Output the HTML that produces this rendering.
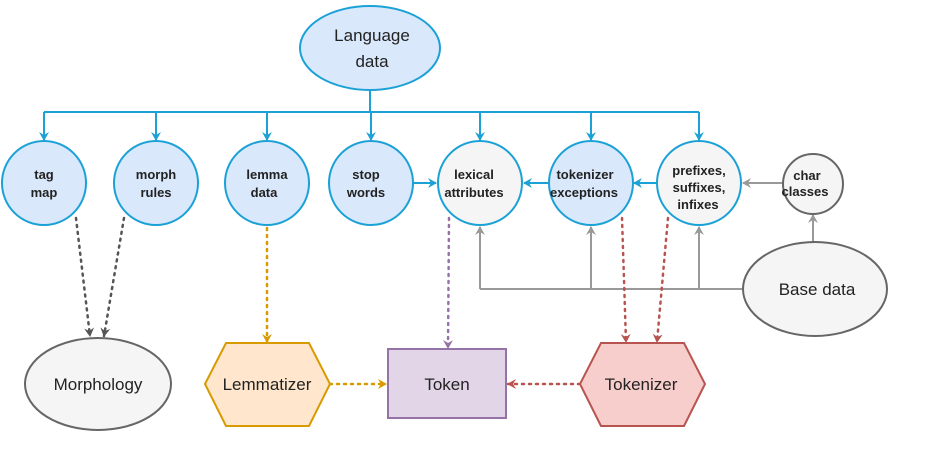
<!DOCTYPE html>
<html><head><style>body{margin:0;background:#fff}svg{display:block}text{font-family:"Liberation Sans",sans-serif}</style></head><body>
<svg width="931" height="456" viewBox="0 0 931 456">
<defs>
<marker id="ab" markerWidth="10" markerHeight="10" refX="8" refY="5" orient="auto" markerUnits="userSpaceOnUse"><path d="M0,0 L9,5 L0,10 L3,5z" fill="#1ba1d6"/></marker>
<marker id="ag" markerWidth="10" markerHeight="10" refX="8" refY="5" orient="auto" markerUnits="userSpaceOnUse"><path d="M0,0 L9,5 L0,10 L3,5z" fill="#999"/></marker>
<marker id="ad" markerWidth="10" markerHeight="10" refX="8" refY="5" orient="auto" markerUnits="userSpaceOnUse"><path d="M0,0 L9,5 L0,10 L3,5z" fill="#555"/></marker>
<marker id="ao" markerWidth="10" markerHeight="10" refX="8" refY="5" orient="auto" markerUnits="userSpaceOnUse"><path d="M0,0 L9,5 L0,10 L3,5z" fill="#d79b00"/></marker>
<marker id="ap" markerWidth="10" markerHeight="10" refX="8" refY="5" orient="auto" markerUnits="userSpaceOnUse"><path d="M0,0 L9,5 L0,10 L3,5z" fill="#9673a6"/></marker>
<marker id="ar" markerWidth="10" markerHeight="10" refX="8" refY="5" orient="auto" markerUnits="userSpaceOnUse"><path d="M0,0 L9,5 L0,10 L3,5z" fill="#b85450"/></marker>
</defs>
<g stroke="#1ba1d6" stroke-width="2" fill="none">
<line x1="370" y1="90" x2="370" y2="112"/>
<line x1="44" y1="112" x2="699" y2="112"/>
<g marker-end="url(#ab)">
<line x1="44" y1="112" x2="44" y2="140"/><line x1="156" y1="112" x2="156" y2="140"/><line x1="267" y1="112" x2="267" y2="140"/><line x1="371" y1="112" x2="371" y2="140"/><line x1="480" y1="112" x2="480" y2="140"/><line x1="591" y1="112" x2="591" y2="140"/><line x1="699" y1="112" x2="699" y2="140"/>
<line x1="413" y1="183" x2="436" y2="183"/><line x1="549" y1="183" x2="524" y2="183"/><line x1="657" y1="183" x2="634" y2="183"/>
</g></g>
<g stroke="#999" stroke-width="2" fill="none">
<polyline points="743,289 480,289"/>
<g marker-end="url(#ag)">
<line x1="480" y1="289" x2="480" y2="227"/><line x1="591" y1="289" x2="591" y2="227"/><line x1="699" y1="289" x2="699" y2="227"/>
<line x1="813" y1="242" x2="813" y2="215"/><line x1="783" y1="183" x2="743" y2="183"/>
</g></g>
<g stroke-width="2.5" fill="none" stroke-dasharray="2,5" stroke-linecap="round">
<line x1="76" y1="218" x2="90" y2="336" stroke="#555" marker-end="url(#ad)"/>
<line x1="124" y1="218" x2="104" y2="336" stroke="#555" marker-end="url(#ad)"/>
<line x1="267" y1="228" x2="267" y2="342" stroke="#d79b00" marker-end="url(#ao)"/>
<line x1="330" y1="384" x2="386" y2="384" stroke="#d79b00" marker-end="url(#ao)"/>
<line x1="449" y1="218" x2="448" y2="348" stroke="#9673a6" marker-end="url(#ap)"/>
<line x1="622" y1="218" x2="626" y2="342" stroke="#b85450" marker-end="url(#ar)"/>
<line x1="668" y1="218" x2="657" y2="342" stroke="#b85450" marker-end="url(#ar)"/>
<line x1="580" y1="384" x2="508" y2="384" stroke="#b85450" marker-end="url(#ar)"/>
</g>
<g stroke="#1ba1d6" stroke-width="2">
<ellipse cx="370" cy="48" rx="70" ry="42" fill="#dae8fc"/>
<circle cx="44" cy="183" r="42" fill="#dae8fc"/>
<circle cx="156" cy="183" r="42" fill="#dae8fc"/>
<circle cx="267" cy="183" r="42" fill="#dae8fc"/>
<circle cx="371" cy="183" r="42" fill="#dae8fc"/>
<circle cx="480" cy="183" r="42" fill="#f5f5f5"/>
<circle cx="591" cy="183" r="42" fill="#dae8fc"/>
<circle cx="699" cy="183" r="42" fill="#f5f5f5"/>
</g>
<g stroke="#666" stroke-width="2" fill="#f5f5f5">
<circle cx="813" cy="184" r="30"/>
<ellipse cx="815" cy="289" rx="72" ry="47"/>
<ellipse cx="98" cy="384" rx="73" ry="46"/>
</g>
<polygon points="205,384 226,343 309,343 330,384 309,426 226,426" fill="#ffe6cc" stroke="#d79b00" stroke-width="2"/>
<rect x="388" y="349" width="118" height="69" fill="#e1d5e7" stroke="#9673a6" stroke-width="2"/>
<polygon points="580,384 601,343 684,343 705,384 684,426 601,426" fill="#f8cecc" stroke="#b85450" stroke-width="2"/>
<g font-size="13" font-weight="bold" fill="#222" text-anchor="middle">
<text x="44" y="179">tag</text><text x="44" y="197">map</text>
<text x="156" y="179">morph</text><text x="156" y="197">rules</text>
<text x="267" y="179">lemma</text><text x="264" y="197">data</text>
<text x="366" y="179">stop</text><text x="366" y="197">words</text>
<text x="474" y="179">lexical</text><text x="474" y="197">attributes</text>
<text x="585" y="179">tokenizer</text><text x="584" y="197">exceptions</text>
<text x="699" y="175">prefixes,</text><text x="699" y="192">suffixes,</text><text x="698" y="209">infixes</text>
<text x="807" y="180">char</text><text x="805" y="196">classes</text>
</g>
<g font-size="17" fill="#222" text-anchor="middle">
<text x="372" y="41">Language</text><text x="372" y="67">data</text>
<text x="817" y="295">Base data</text>
<text x="98" y="390">Morphology</text>
<text x="267" y="390">Lemmatizer</text>
<text x="447" y="390">Token</text>
<text x="641" y="390">Tokenizer</text>
</g>
</svg>
</body></html>
